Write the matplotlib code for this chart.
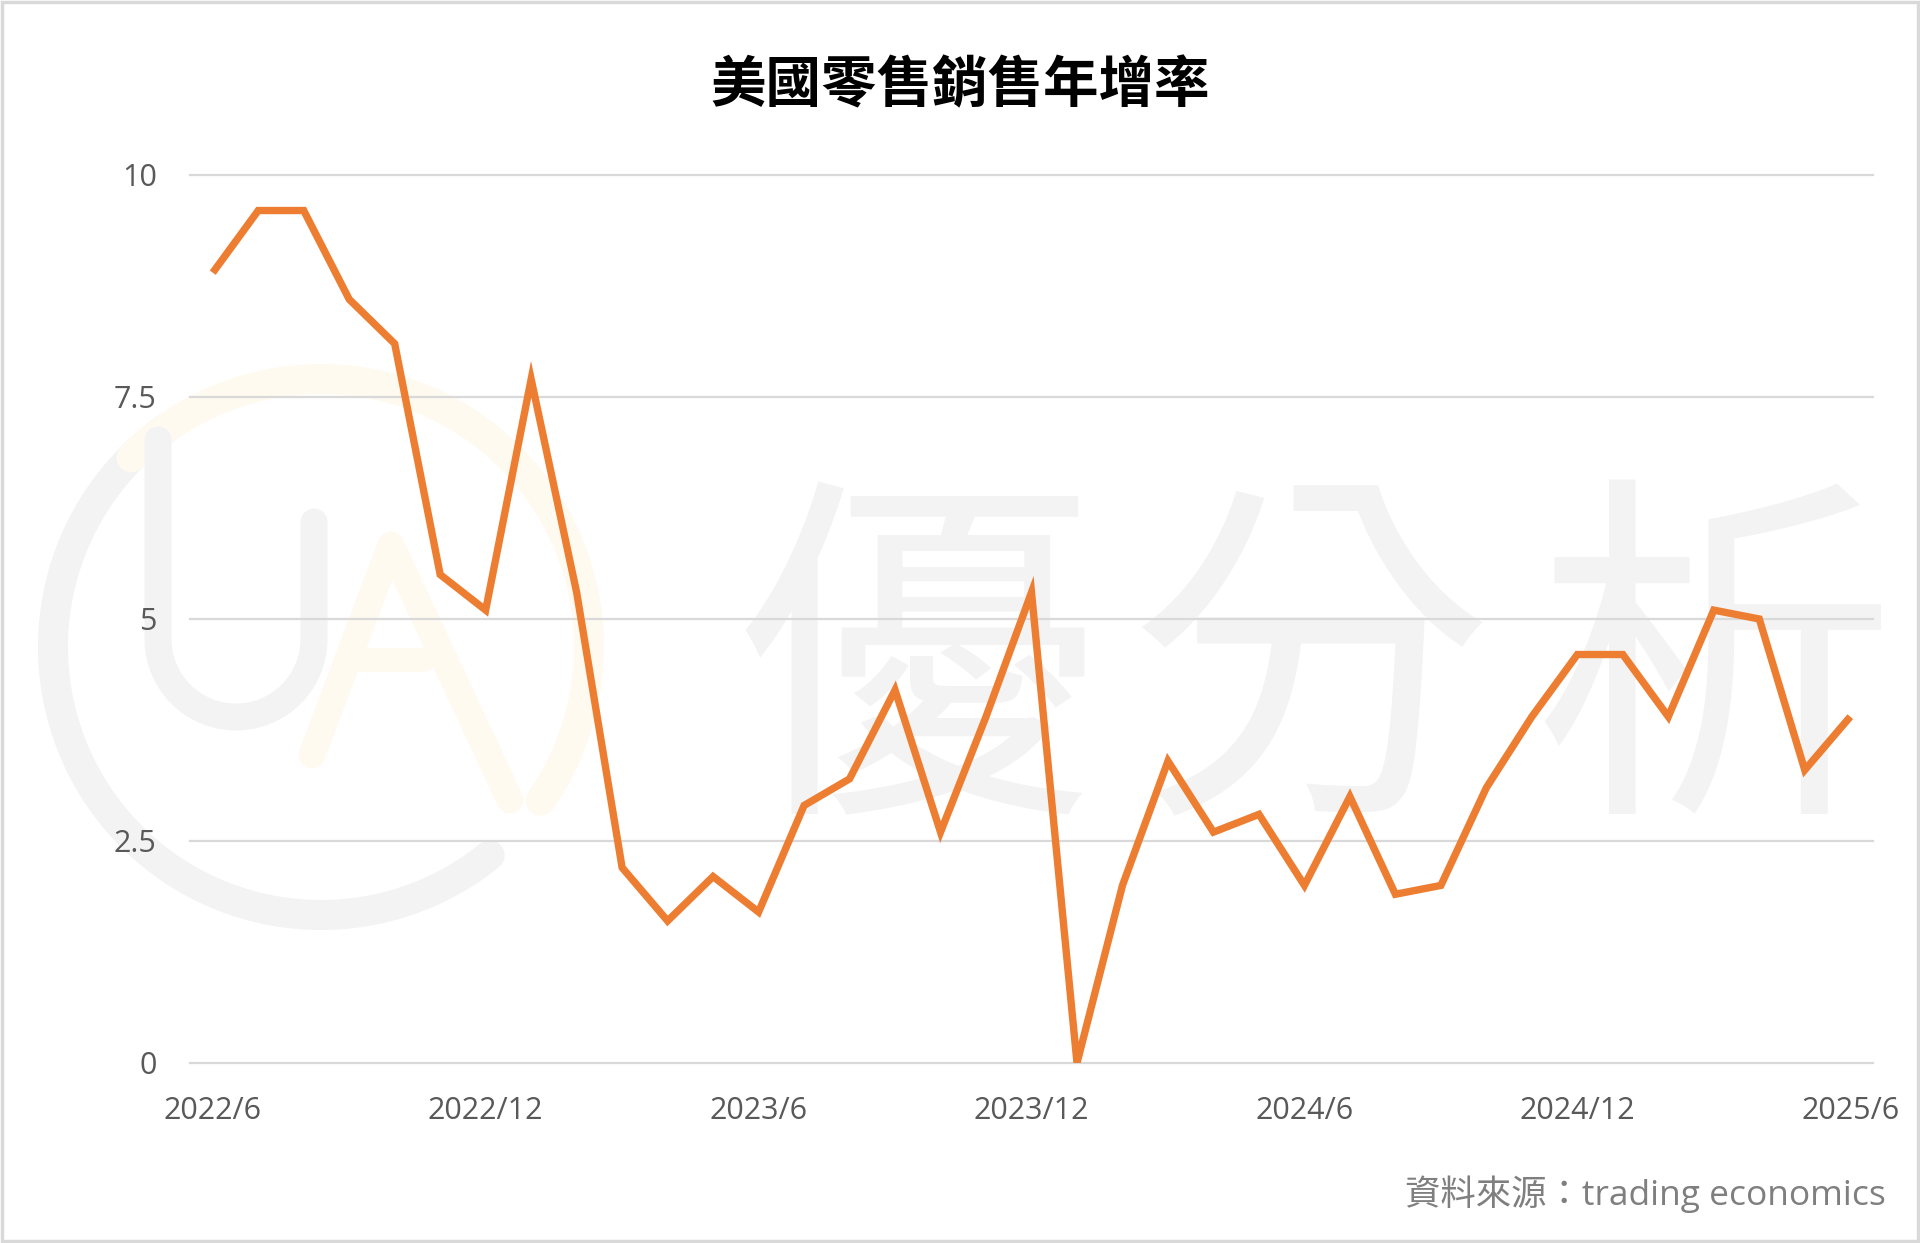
"""
US retail sales YoY line chart (Excel-style) with faint watermark
"""

import numpy as np
import matplotlib as mpl
mpl.use("Agg")
import matplotlib.pyplot as plt
from matplotlib.lines import Line2D
from matplotlib.patches import Rectangle

# --- data -----------------------------------------------------------------
months = ["2022/6", "2022/7", "2022/8", "2022/9", "2022/10", "2022/11", "2022/12",
          "2023/1", "2023/2", "2023/3", "2023/4", "2023/5", "2023/6",
          "2023/7", "2023/8", "2023/9", "2023/10", "2023/11", "2023/12",
          "2024/1", "2024/2", "2024/3", "2024/4", "2024/5", "2024/6",
          "2024/7", "2024/8", "2024/9", "2024/10", "2024/11", "2024/12",
          "2025/1", "2025/2", "2025/3", "2025/4", "2025/5", "2025/6"]
yoy = [8.9, 9.6, 9.6, 8.6, 8.1, 5.5, 5.1,
       7.7, 5.3, 2.2, 1.6, 2.1, 1.7,
       2.9, 3.2, 4.2, 2.6, 3.9, 5.3,
       0.0, 2.0, 3.4, 2.6, 2.8, 2.0,
       3.0, 1.9, 2.0, 3.1, 3.9, 4.6,
       4.6, 3.9, 5.1, 5.0, 3.3, 3.9]
y_ticks = [0, 2.5, 5, 7.5, 10]
y_tick_labels = ["0", "2.5", "5", "7.5", "10"]
title = "美國零售銷售年增率"
source = "資料來源：trading economics"

W, H = 1920, 1243
fig = plt.figure(figsize=(W / 100, H / 100), dpi=100)
fig.patch.set_facecolor("white")

def fx(x):
    return x / W

def fy(y):
    return 1 - y / H

def wm_line(xs, ys, color, lw_px):
    # watermark strokes, given in pixel coords (top-left origin)
    fig.add_artist(Line2D([fx(v) for v in xs], [fy(v) for v in ys],
                          transform=fig.transFigure, color=color,
                          lw=lw_px * 0.72, solid_capstyle="round",
                          solid_joinstyle="round", zorder=-5))

gray_wm = "#f3f3f3"
pale_wm = "#fffaf0"

# logo circle (two arcs)
cx, cy, r = 321, 647, 268
a = np.radians(np.linspace(125, 309, 120))
wm_line(cx + r * np.cos(a), cy - r * np.sin(a), gray_wm, 30)
a = np.radians(np.linspace(135, -35, 120))
wm_line(cx + r * np.cos(a), cy - r * np.sin(a), pale_wm, 30)

# U
a = np.radians(np.linspace(180, 360, 60))
ux = np.concatenate([[158], 236 + 78 * np.cos(a), [314]])
uy = np.concatenate([[440], 639 - 78 * np.sin(a), [522]])
wm_line(ux, uy, gray_wm, 27)
# A
wm_line([312, 391, 510], [755, 545, 800], pale_wm, 27)
wm_line([362, 424], [660, 660], pale_wm, 24)

# big watermark text
for ch, x in zip("優分析", [916, 1310, 1714]):
    fig.text(fx(x), fy(682), ch, fontsize=262, color=gray_wm,
             family=["Noto Sans CJK TC"], ha="center", va="center", zorder=-5)

# --- axes -----------------------------------------------------------------
ax = fig.add_axes([fx(190), fy(1063), fx(1873) - fx(190), (1063 - 175) / H])
ax.patch.set_alpha(0)

x = np.arange(len(yoy))
ax.plot(x, yoy, color="#ED7D31", lw=5.3, solid_joinstyle="miter",
        solid_capstyle="butt", zorder=3)

ax.set_xlim(-0.5, len(yoy) - 0.5)
ax.set_ylim(0, 10)
ax.set_yticks(y_ticks)
ax.set_yticklabels(y_tick_labels)
ax.set_xticks(x[::6])
ax.set_xticklabels(months[::6])
ax.yaxis.grid(True, color="#d9d9d9", lw=1.6)
ax.set_axisbelow(True)
for s in ax.spines.values():
    s.set_visible(False)
ax.tick_params(axis="both", length=0, labelsize=22, labelcolor="#595959")
ax.tick_params(axis="y", pad=24)
ax.tick_params(axis="x", pad=24)
for lab in ax.get_xticklabels() + ax.get_yticklabels():
    lab.set_family(["Open Sans", "Noto Sans CJK TC"])
for gl in ax.get_ygridlines():
    gl.set_clip_on(False)

# --- texts ----------------------------------------------------------------
fig.text(0.5, fy(86), title, fontsize=40, fontweight="bold", color="black",
         family=["Noto Sans CJK TC"], ha="center", va="center")
fig.text(fx(1886), fy(1194), source, fontsize=25.5, color="#7f7f7f",
         family=["Open Sans", "Noto Sans CJK TC"], ha="right", va="center")

# frame around the picture
fig.add_artist(Rectangle((0.001, 0.0015), 0.998, 0.997, transform=fig.transFigure,
                         fill=False, edgecolor="#d9d9d9", lw=2.5))

fig.savefig("out.png", dpi=100)
plt.close(fig)
